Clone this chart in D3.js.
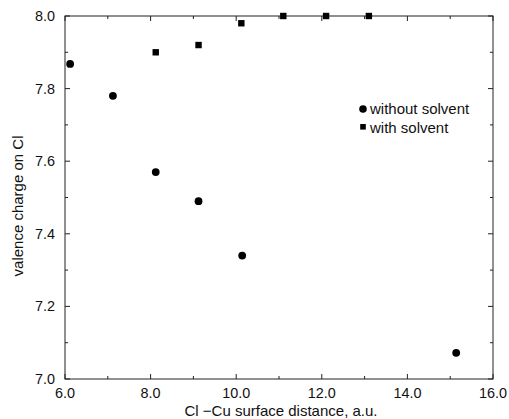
<!DOCTYPE html>
<html>
<head>
<meta charset="utf-8">
<script src="https://cdn.jsdelivr.net/npm/d3@7"></script>
<style>
  body { margin: 0; background: #fff; }
  text { font-family: "Liberation Sans", Arial, sans-serif; fill: #111; }
</style>
</head>
<body>
<script>
// values
let withoutX = [6.12, 7.12, 8.12, 9.12, 10.14, 15.14];
let withoutY = [7.868, 7.78, 7.57, 7.49, 7.34, 7.072];
let withX = [8.12, 9.12, 10.12, 11.1, 12.1, 13.1];
let withY = [7.90, 7.92, 7.98, 8.0, 8.0, 8.0];
let xTicks = [6, 8, 10, 12, 14, 16];
let yTicks = [7.0, 7.2, 7.4, 7.6, 7.8, 8.0];
let legendLabels = ["without solvent", "with solvent"];

let width = 509, height = 419;
let plotL = 65, plotR = 493, plotT = 16, plotB = 379;

let svg = d3.select("body").append("svg").attr("width", width).attr("height", height);

let x = d3.scaleLinear().domain([6, 16]).range([plotL, plotR]);
let y = d3.scaleLinear().domain([7, 8]).range([plotB, plotT]);

/* frame */
svg.append("rect")
    .attr("x", plotL).attr("y", plotT)
    .attr("width", plotR - plotL).attr("height", plotB - plotT)
    .attr("fill", "none").attr("stroke", "#222").attr("stroke-width", 1);

/* inward ticks on all four sides, minor every 1.0 / 0.1 */
let xMinor = d3.range(6, 16.01, 1);
let yMinor = d3.range(7, 8.001, 0.1);
let tickG = svg.append("g").attr("stroke", "#222").attr("stroke-width", 1);

xMinor.forEach(v => {
    let len = (Math.round(v) % 2 === 0) ? 5 : 3;
    tickG.append("line").attr("x1", x(v)).attr("x2", x(v)).attr("y1", plotB).attr("y2", plotB - len);
    tickG.append("line").attr("x1", x(v)).attr("x2", x(v)).attr("y1", plotT).attr("y2", plotT + len);
});
yMinor.forEach((v, i) => {
    let len = (i % 2 === 0) ? 5 : 3;
    tickG.append("line").attr("y1", y(v)).attr("y2", y(v)).attr("x1", plotL).attr("x2", plotL + len);
    tickG.append("line").attr("y1", y(v)).attr("y2", y(v)).attr("x1", plotR).attr("x2", plotR - len);
});

/* tick labels */
svg.selectAll("text.xt").data(xTicks).enter().append("text")
    .attr("class", "xt")
    .attr("x", d => x(d)).attr("y", plotB + 19)
    .attr("text-anchor", "middle").attr("font-size", 14.4)
    .text(d => d3.format(".1f")(d));

svg.selectAll("text.yt").data(yTicks).enter().append("text")
    .attr("class", "yt")
    .attr("x", plotL - 10).attr("y", d => y(d) + 5)
    .attr("text-anchor", "end").attr("font-size", 14.4)
    .text(d => d3.format(".1f")(d));

/* axis titles */
svg.append("text")
    .attr("x", 281).attr("y", 416)
    .attr("text-anchor", "middle").attr("font-size", 15)
    .text("Cl \u2212Cu surface distance, a.u.");

svg.append("text")
    .attr("transform", "translate(23,206) rotate(-90)")
    .attr("text-anchor", "middle").attr("font-size", 15)
    .text("valence charge on Cl");

/* points */
let withoutData = withoutX.map((v, i) => ({x: v, y: withoutY[i]}));
let withData = withX.map((v, i) => ({x: v, y: withY[i]}));

svg.selectAll("circle.pt").data(withoutData).enter().append("circle")
    .attr("class", "pt")
    .attr("cx", d => x(d.x)).attr("cy", d => y(d.y))
    .attr("r", 3.9).attr("fill", "#000");

svg.selectAll("rect.pt").data(withData).enter().append("rect")
    .attr("class", "pt")
    .attr("x", d => x(d.x) - 3.2).attr("y", d => y(d.y) - 3.2)
    .attr("width", 6.4).attr("height", 6.4).attr("fill", "#000");

/* legend */
let lg = svg.append("g").attr("transform", "translate(363,109)");
lg.append("circle").attr("cx", 0).attr("cy", 0).attr("r", 3.8).attr("fill", "#000");
lg.append("rect").attr("x", -2.8).attr("y", 15).attr("width", 5.6).attr("height", 5.6).attr("fill", "#000");
lg.selectAll("text").data(legendLabels).enter().append("text")
    .attr("x", 7).attr("y", (d, i) => i * 18.5 + 5)
    .attr("font-size", 15)
    .text(d => d);
</script>
</body>
</html>
